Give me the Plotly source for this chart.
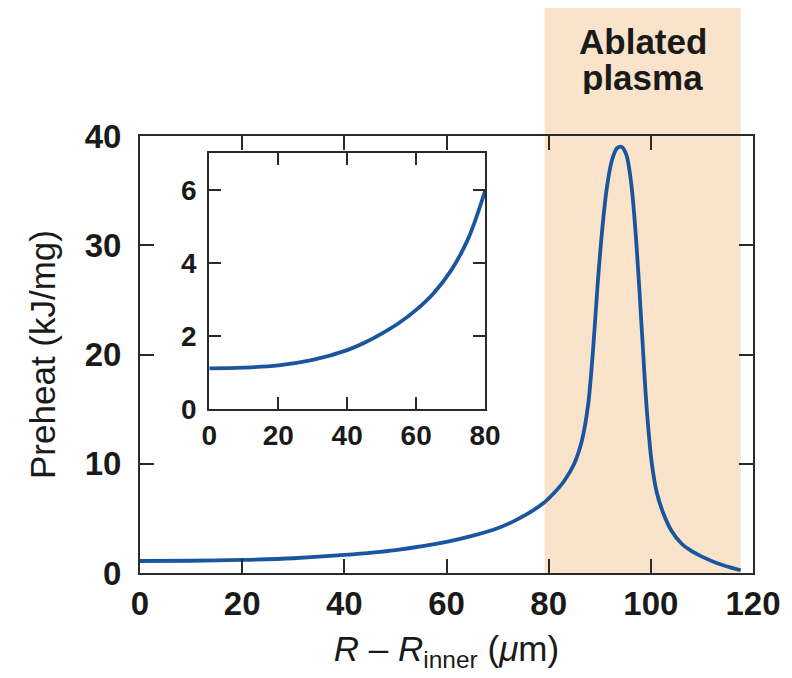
import plotly.graph_objects as go

# Main curve: preheat vs R - R_inner
main_x = [0, 10, 20, 30, 40, 50, 60, 65, 70, 73, 76, 79, 81, 83, 85, 86.5, 87.7, 88.7, 89.6,
          90.5, 91.4, 92.4, 93.4, 94.3, 95.2, 96.2, 97.2, 98.2, 99.2, 100.2, 101.2, 102.5,
          104, 106, 108, 110, 113, 117.6]
main_y = [1.1, 1.12, 1.2, 1.35, 1.65, 2.1, 2.85, 3.4, 4.1, 4.7, 5.45, 6.4, 7.3, 8.4, 10.0,
          12.1, 15.3, 20.5, 26.5, 31.5, 35.3, 37.8, 38.9, 39.0, 38.3, 35.5, 30, 22.5, 15,
          10, 7.3, 5.4, 3.9, 2.7, 2.0, 1.5, 0.9, 0.25]

# Inset curve (0-80 um)
inset_x = [0, 10, 20, 30, 40, 45, 50, 55, 60, 65, 70, 75, 80]
inset_y = [1.12, 1.14, 1.2, 1.35, 1.62, 1.82, 2.07, 2.36, 2.72, 3.17, 3.78, 4.65, 5.98]

main_xticks = [0, 20, 40, 60, 80, 100, 120]
main_yticks = [0, 10, 20, 30, 40]
inset_xticks = [0, 20, 40, 60, 80]
inset_yticks = [0, 2, 4, 6]

ablated_range = [79.2, 117.6]
ablated_lines = ["Ablated", "plasma"]

line_color = "#1a56a0"
axis_color = "#2a2a2a"
text_color = "#1a1a1a"
font_fam = "Liberation Sans, Arial, sans-serif"

fig = go.Figure()
fig.add_trace(go.Scatter(x=main_x, y=main_y, mode="lines",
                         line=dict(color=line_color, width=3.8, shape="spline", smoothing=0.9),
                         xaxis="x", yaxis="y", showlegend=False, hoverinfo="skip"))
fig.add_trace(go.Scatter(x=inset_x, y=inset_y, mode="lines",
                         line=dict(color=line_color, width=3.8, shape="spline", smoothing=1.0),
                         xaxis="x2", yaxis="y2", showlegend=False, hoverinfo="skip"))

fig.add_shape(type="rect", xref="x", yref="paper", x0=ablated_range[0], x1=ablated_range[1],
              y0=0, y1=1.30, fillcolor="#fae3cb", line=dict(width=0), layer="below")

xc = (ablated_range[0] + ablated_range[1]) / 2
for txt, yp in zip(ablated_lines, [1.218, 1.134]):
    fig.add_annotation(x=xc, xref="x", y=yp, yref="paper", text="<b>" + txt + "</b>",
                       showarrow=False, yanchor="middle", height=34,
                       font=dict(size=35, color=text_color, family=font_fam))

tick_font = dict(size=33, color=text_color, family=font_fam, weight="bold")
inset_tick_font = dict(size=28, color=text_color, family=font_fam, weight="bold")

common = dict(ticks="inside", tickwidth=2, tickcolor=axis_color, showline=True,
              linecolor=axis_color, linewidth=2, mirror="ticks", showgrid=False,
              zeroline=False)

fig.update_layout(
    width=792, height=678,
    margin=dict(l=132, r=47, t=128, b=113),
    paper_bgcolor="white", plot_bgcolor="rgba(0,0,0,0)",
    font=dict(family=font_fam, color=text_color),
    xaxis=dict(range=[0, 120], tickvals=main_xticks, ticklen=14, tickfont=tick_font,
               title=dict(text="<i>R</i> – <i>R</i><sub>inner</sub> (<i>μ</i>m)",
                          font=dict(size=35, family=font_fam), standoff=16), **common),
    yaxis=dict(range=[0, 40], tickvals=main_yticks, ticklen=14, tickfont=tick_font,
               ticklabelstandoff=10,
               title=dict(text="Preheat (kJ/mg)", font=dict(size=35, family=font_fam),
                          standoff=18), **common),
    xaxis2=dict(domain=[0.113, 0.563], anchor="y2", range=[0, 80], tickvals=inset_xticks,
                ticklen=12, tickfont=inset_tick_font, **common),
    yaxis2=dict(domain=[0.3746, 0.96], anchor="x2", range=[0, 7], tickvals=inset_yticks,
                ticklen=12, tickfont=inset_tick_font, ticklabelstandoff=5, **common),
)

fig.write_html("out.html")
